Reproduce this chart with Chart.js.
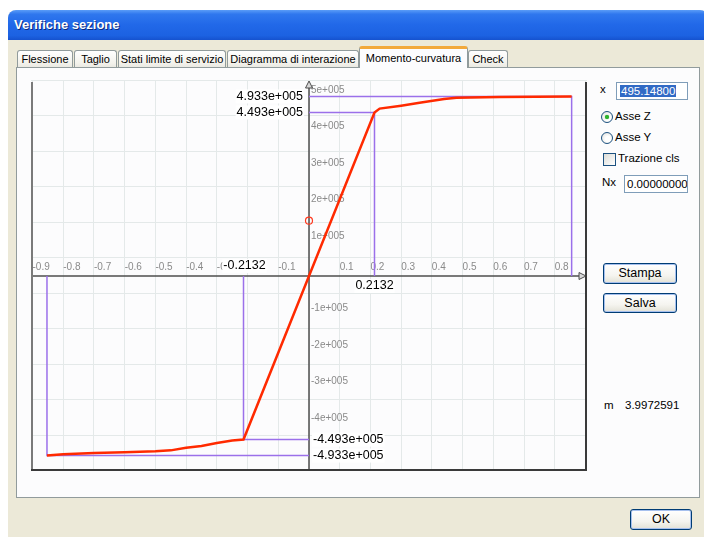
<!DOCTYPE html>
<html>
<head>
<meta charset="utf-8">
<script src="https://cdn.jsdelivr.net/npm/chart.js@4.4.1/dist/chart.umd.min.js"></script>
<style>
  html, body { margin: 0; padding: 0; width: 704px; height: 537px; overflow: hidden; background: #fff;
    font-family: "Liberation Sans", Arial, sans-serif; color: #000; }
  .abs { position: absolute; }
  #frame { left: 8px; top: 10px; width: 700px; height: 530px; background: #ece9d8; border-radius: 8px 8px 0 0; }
  #title { left: 8px; top: 10px; width: 700px; height: 30px; border-radius: 8px 8px 0 0;
    background: linear-gradient(#5a9cf7 0%, #2f77ee 14%, #2168e8 50%, #1c62e2 85%, #1552cf 100%);
    color: #fff; font-weight: bold; font-size: 13px; line-height: 30px; text-indent: 6px;
    text-shadow: 1px 1px 0 #0b2a80; }
  .tab { position: absolute; top: 50px; height: 17px; line-height: 17px; font-size: 11px; text-align: center;
    border: 1px solid #919b9c; border-bottom: 0; border-radius: 3px 3px 0 0; box-sizing: border-box; height: 18px;
    background: linear-gradient(#ffffff, #f3f2ec 70%, #e8e7e0); white-space: nowrap; }
  .tab.sel { top: 46px; height: 22px; line-height: 19px; background: #fcfcfe; border-top: 3px solid #f2a93b; z-index: 3; }
  #panel { left: 16px; top: 67px; width: 684px; height: 431px; box-sizing: border-box;
    border: 1px solid #919b9c; background: #fcfcfd; z-index: 2; }
  #plot { left: 31px; top: 80px; width: 556px; height: 391px; z-index: 4; }
  .lbl { position: absolute; font-size: 11.5px; white-space: nowrap; z-index: 5; }
  .inp { position: absolute; box-sizing: border-box; border: 1px solid #7f9db9; background: #fff; font-size: 11.5px;
    line-height: 16px; z-index: 5; white-space: nowrap; overflow: hidden; }
  .radio { position: absolute; width: 12px; height: 12px; border-radius: 50%; box-sizing: border-box;
    border: 1px solid #1c5180; background: radial-gradient(circle at 60% 60%, #ffffff 30%, #dcdcd7 100%); z-index: 5; }
  .dot { position: absolute; left: 3px; top: 3px; width: 4px; height: 4px; border-radius: 50%;
    background: #2bb52b; box-shadow: 0 0 1px #1a8a1a; }
  .check { position: absolute; width: 13px; height: 13px; box-sizing: border-box; border: 1px solid #1c5180;
    background: linear-gradient(135deg, #dcdcd7, #ffffff); z-index: 5; }
  .btn { position: absolute; box-sizing: border-box; border: 1px solid #003c74; border-radius: 3px;
    background: linear-gradient(#ffffff, #f5f4ef 60%, #e3e1d6); text-align: center; font-size: 12.5px;
    box-shadow: inset 0 0 0 1px #a6c0ee; z-index: 5; }
</style>
</head>
<body>
<div id="frame" class="abs"></div>
<div id="title" class="abs">Verifiche sezione</div>

<div class="tab" style="left:17px;width:56px">Flessione</div>
<div class="tab" style="left:74px;width:43px">Taglio</div>
<div class="tab" style="left:118px;width:108px">Stati limite di servizio</div>
<div class="tab" style="left:227px;width:132px">Diagramma di interazione</div>
<div class="tab sel" style="left:359px;width:109px">Momento-curvatura</div>
<div class="tab" style="left:468px;width:40px">Check</div>

<div id="panel" class="abs"></div>
<div id="plot" class="abs"><canvas id="chart" width="556" height="391"></canvas></div>

<div class="lbl" style="left:600px;top:83px">x</div>
<div class="inp" style="left:616px;top:82px;width:72px;height:18px">
  <span style="background:#316ac5;color:#fff;margin-left:3px;padding:0 1px">495.14800</span></div>
<div class="radio" style="left:601px;top:111px"><div class="dot"></div></div>
<div class="lbl" style="left:615px;top:110px">Asse Z</div>
<div class="radio" style="left:601px;top:132px"></div>
<div class="lbl" style="left:615px;top:131px">Asse Y</div>
<div class="check" style="left:603px;top:153px"></div>
<div class="lbl" style="left:618px;top:152px">Trazione cls</div>
<div class="lbl" style="left:602px;top:176px">Nx</div>
<div class="inp" style="left:624px;top:175px;width:64px;height:18px;padding-left:2px">0.00000000</div>
<div class="btn" style="left:603px;top:263px;width:74px;height:21px;line-height:19px">Stampa</div>
<div class="btn" style="left:603px;top:293px;width:74px;height:20px;line-height:18px">Salva</div>
<div class="lbl" style="left:604px;top:399px">m</div>
<div class="lbl" style="left:625px;top:399px">3.9972591</div>
<div class="btn" style="left:630px;top:509px;width:62px;height:21px;line-height:19px">OK</div>

<script>
// Moment-curvature curve (curvature, moment)
const curvature = [-0.853, -0.80, -0.70, -0.60, -0.50, -0.45, -0.40, -0.35, -0.30, -0.25, -0.2132,
                   0, 0.2132, 0.23, 0.30, 0.36, 0.44, 0.48, 0.62, 0.855];
const moment = [-4.933e5, -4.90e5, -4.86e5, -4.84e5, -4.815e5, -4.79e5, -4.72e5, -4.67e5, -4.59e5, -4.52e5, -4.493e5,
                0, 4.493e5, 4.60e5, 4.68e5, 4.76e5, 4.86e5, 4.90e5, 4.92e5, 4.933e5];

// Yield and ultimate reference values
const yieldCurvature = 0.2132;
const yieldMoment = 4.493e5;
const ultimateMoment = 4.933e5;
const ultimateCurvaturePos = 0.855;
const ultimateCurvatureNeg = -0.853;

// Current point marker on the moment axis
const markerX = [0];
const markerY = [1.52e5];

// Tick labels shown along the axes
const xTickValues = [-0.9, -0.8, -0.7, -0.6, -0.5, -0.4, -0.3, -0.2, -0.1, 0.1, 0.2, 0.3, 0.4, 0.5, 0.6, 0.7, 0.8];
const yTickValues = [5e5, 4e5, 3e5, 2e5, 1e5, -1e5, -2e5, -3e5, -4e5];

const fmtExp = (v, d) => v.toExponential(d).replace(/e([+-])(\d+)$/, (m, s, e) => 'e' + s + e.padStart(3, '0'));

const curvePoints = curvature.map((c, i) => ({ x: c, y: moment[i] }));
const markerPoints = markerX.map((c, i) => ({ x: c, y: markerY[i] }));
const guide = (cx, my) => [{ x: 0, y: my }, { x: cx, y: my }, { x: cx, y: 0 }];

const purple = '#9b70ea';
const guideDs = (data) => ({ data, showLine: true, borderColor: purple, borderWidth: 1.5, pointRadius: 0, tension: 0 });

const axesPlugin = {
  id: 'mcAxes',
  beforeDatasetsDraw(chart) {
    const { ctx, chartArea: a, scales: { x, y } } = chart;
    const x0 = x.getPixelForValue(0), y0 = y.getPixelForValue(0);
    ctx.save();
    ctx.fillStyle = '#8a8a8a';
    ctx.font = '10px "Liberation Sans Narrow", "Liberation Sans", sans-serif';
    ctx.textAlign = 'left';
    ctx.textBaseline = 'alphabetic';
    xTickValues.forEach(v => ctx.fillText(v.toFixed(1), x.getPixelForValue(v), y0 - 6));
    yTickValues.forEach(v => ctx.fillText(fmtExp(v, 0), x0 + 2, y.getPixelForValue(v) - 1));

    ctx.strokeStyle = '#4d4d4d';
    ctx.lineWidth = 1.5;
    ctx.beginPath();
    ctx.moveTo(a.left, y0); ctx.lineTo(a.right - 7, y0);
    ctx.moveTo(x0, a.bottom); ctx.lineTo(x0, a.top + 7);
    ctx.stroke();
    // arrow heads
    ctx.lineWidth = 1;
    ctx.fillStyle = '#d8d8d8';
    ctx.beginPath();
    ctx.moveTo(x0, a.top + 1); ctx.lineTo(x0 - 3.5, a.top + 8); ctx.lineTo(x0 + 3.5, a.top + 8); ctx.closePath();
    ctx.fill(); ctx.stroke();
    ctx.beginPath();
    ctx.moveTo(a.right - 1, y0); ctx.lineTo(a.right - 8, y0 - 3.5); ctx.lineTo(a.right - 8, y0 + 3.5); ctx.closePath();
    ctx.fill(); ctx.stroke();
    ctx.restore();
  },
  afterDatasetsDraw(chart) {
    const { ctx, chartArea: a, scales: { x, y } } = chart;
    const x0 = x.getPixelForValue(0), y0 = y.getPixelForValue(0);
    ctx.save();
    ctx.font = '12.5px "Liberation Sans", Arial, sans-serif';
    ctx.textBaseline = 'middle';
    const note = (text, px, py, align) => {
      const w = ctx.measureText(text).width;
      const left = align === 'right' ? px - w : align === 'center' ? px - w / 2 : px;
      ctx.fillStyle = '#ffffff';
      ctx.fillRect(left - 1, py - 7, w + 2, 14);
      ctx.fillStyle = '#000000';
      ctx.textAlign = 'left';
      ctx.fillText(text, left, py);
    };
    note(fmtExp(ultimateMoment, 3), x0 - 6, y.getPixelForValue(ultimateMoment), 'right');
    note(fmtExp(yieldMoment, 3), x0 - 6, y.getPixelForValue(yieldMoment), 'right');
    note(fmtExp(-yieldMoment, 3), x0 + 4, y.getPixelForValue(-yieldMoment), 'left');
    note(fmtExp(-ultimateMoment, 3), x0 + 4, y.getPixelForValue(-ultimateMoment), 'left');
    note((-yieldCurvature).toFixed(4), x.getPixelForValue(-yieldCurvature) + 1, y0 - 10, 'center');
    note(yieldCurvature.toFixed(4), x.getPixelForValue(yieldCurvature), y0 + 10, 'center');

    // plot frame
    ctx.lineWidth = 2;
    ctx.strokeStyle = '#7a7a7a';
    ctx.beginPath(); ctx.moveTo(a.left + 1, a.top + 2); ctx.lineTo(a.left + 1, a.bottom); ctx.stroke();
    ctx.strokeStyle = '#3a3a3a';
    ctx.beginPath();
    ctx.moveTo(a.left, a.bottom - 1); ctx.lineTo(a.right - 1, a.bottom - 1); ctx.lineTo(a.right - 1, a.top + 2);
    ctx.stroke();
    ctx.restore();
  }
};

new Chart(document.getElementById('chart'), {
  type: 'scatter',
  data: {
    datasets: [
      { data: curvePoints, showLine: true, borderColor: '#ff2a00', borderWidth: 2.5, pointRadius: 0, tension: 0 },
      { data: markerPoints, showLine: false, pointRadius: 3.5, pointStyle: 'circle', borderColor: '#ff3a20',
        backgroundColor: 'rgba(255,255,255,0)', borderWidth: 1.2 },
      guideDs(guide(yieldCurvature, yieldMoment)),
      guideDs(guide(ultimateCurvaturePos, ultimateMoment)),
      guideDs(guide(-yieldCurvature, -yieldMoment)),
      guideDs(guide(ultimateCurvatureNeg, -ultimateMoment))
    ]
  },
  options: {
    responsive: false,
    animation: false,
    layout: { padding: 0, autoPadding: false },
    plugins: { legend: { display: false }, tooltip: { enabled: false } },
    scales: {
      x: { type: 'linear', min: -0.905, max: 0.905,
           ticks: { display: false, stepSize: 0.1, includeBounds: false },
           grid: { color: '#e4e9e9', drawTicks: false, lineWidth: 1 }, border: { display: false } },
      y: { type: 'linear', min: -5.357e5, max: 5.385e5,
           ticks: { display: false, stepSize: 1e5, includeBounds: false },
           grid: { color: '#e4e9e9', drawTicks: false, lineWidth: 1 }, border: { display: false } }
    }
  },
  plugins: [axesPlugin]
});
</script>
</body>
</html>
